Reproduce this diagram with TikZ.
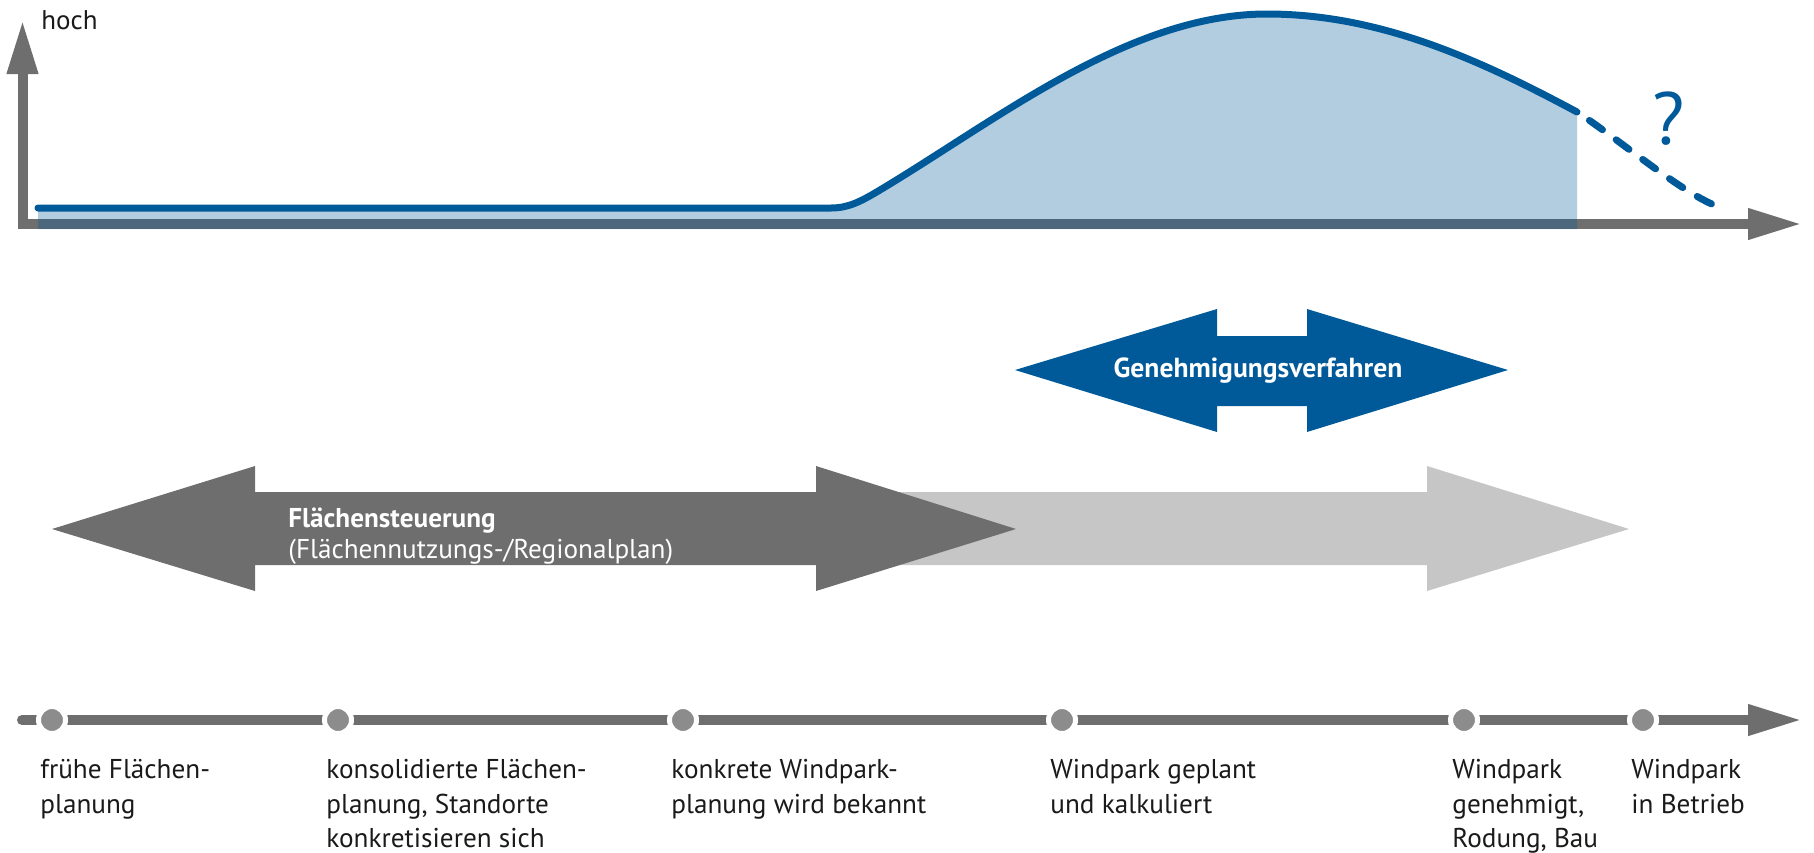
\documentclass[tikz,border=0pt]{standalone}
\usepackage{fontspec}
\setmainfont{PT Sans}
\usetikzlibrary{arrows.meta}
\definecolor{axgray}{HTML}{6E6E6E}
\definecolor{lgray}{HTML}{C5C6C5}
\definecolor{dotgray}{HTML}{8C8C8C}
\definecolor{wblue}{HTML}{005A9A}
\definecolor{txt}{HTML}{1A1A1A}
\tikzset{
  >={Triangle[length=27pt,width=14.5pt]},
  axis/.style={draw=axgray, line width=5pt},
  milestone/.style={circle, fill=dotgray, draw=white, line width=2.5pt, minimum size=13.5pt, inner sep=0pt},
  lbl/.style={anchor=north west, inner sep=0pt, align=left, text=txt, font=\fontsize{13.6}{17.3}\selectfont},
  curve/.style={draw=wblue, line width=3.5pt, line cap=round},
  intext/.style={text=white, inner sep=0pt, font=\fontsize{13.6}{15.5}\selectfont},
}
\begin{document}
\begin{tikzpicture}[x=0.5pt,y=-0.5pt]
  \useasboundingbox (0,0) rectangle (1814,852);
  \draw
    (22.5,20) coordinate (ytip)
    (22.5,224) coordinate (origin)
    (1802,224) coordinate (xtip)
    (38,208) coordinate (c0)
    (831,208) coordinate (c1)
    (880,190) coordinate (c2)
    (1267,14) coordinate (peak)
    (1577,112) coordinate (c3)
    (1723,208) coordinate (c4)
    (22,720) coordinate (tstart)
    (1802,720) coordinate (tend);
  \begin{scope}[->]
    \draw[axis, <->] (ytip) -- (origin) -- (xtip);
    \draw[axis, line cap=round] (tstart) -- (tend);
  \end{scope}
  \fill[wblue, fill opacity=0.3] (38,229) -- (c0) -- (c1)
    .. controls (848,208) and (860,202) .. (c2)
    .. controls (1000,118) and (1130,14) .. (peak)
    .. controls (1380,14) and (1480,60) .. (c3) -- (1577,229) -- cycle;
  \draw[curve] (c0) -- (c1)
    .. controls (848,208) and (860,202) .. (c2)
    .. controls (1000,118) and (1130,14) .. (peak)
    .. controls (1380,14) and (1480,60) .. (c3);
  \draw[curve, dash pattern=on 8pt off 8.5pt, dash phase=9pt] (c3)
    .. controls (1620,140) and (1690,200) .. (c4);
  \node[anchor=base west, inner sep=0pt, text=txt, font=\fontsize{13.5}{15}\selectfont] (high) at (41,29) {hoch};
  \node[text=wblue, font=\fontsize{37}{37}\selectfont] (quest) at (1669,119) {?};
  \fill[lgray] (850,492) -- (1427,492) -- (1427,466) -- (1629,529) -- (1427,591) -- (1427,565) -- (850,565) -- cycle;
  \fill[axgray] (52,529) -- (255,466) -- (255,492) -- (816,492) -- (816,466) -- (1016,529)
    -- (816,591) -- (816,565) -- (255,565) -- (255,591) -- cycle;
  \fill[wblue] (1015,370) -- (1217,309) -- (1217,336) -- (1307,336) -- (1307,309) -- (1508,370)
    -- (1307,432) -- (1307,406) -- (1217,406) -- (1217,432) -- cycle;
  \node[intext, anchor=west, align=left] (steer) at (288,536) {\textbf{Flächensteuerung}\\(Flächennutzungs-/Regionalplan)};
  \node[intext, font=\bfseries\fontsize{13.8}{15.5}\selectfont] (permit) at (1258,371) {Genehmigungsverfahren};
  \draw
    (52,720) node[milestone] (m1){}
    (338,720) node[milestone] (m2){}
    (683,720) node[milestone] (m3){}
    (1062,720) node[milestone] (m4){}
    (1464,720) node[milestone] (m5){}
    (1643,720) node[milestone] (m6){};
  \node[lbl] (l1) at (40,759) {frühe Flächen-\\planung};
  \node[lbl] (l2) at (326,759) {konsolidierte Flächen-\\planung, Standorte\\konkretisieren sich};
  \node[lbl] (l3) at (671,759) {konkrete Windpark-\\planung wird bekannt};
  \node[lbl] (l4) at (1050,759) {Windpark geplant\\und kalkuliert};
  \node[lbl] (l5) at (1452,759) {Windpark\\genehmigt,\\Rodung, Bau};
  \node[lbl] (l6) at (1631,759) {Windpark\\in Betrieb};
\end{tikzpicture}
\end{document}
